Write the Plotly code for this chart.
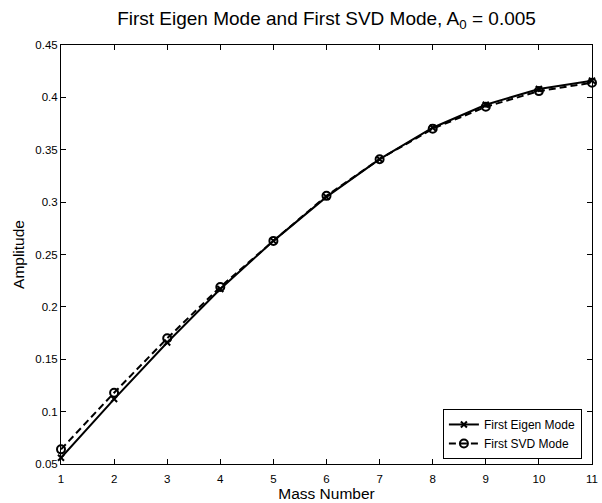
import plotly.graph_objects as go

mass_number = [1, 2, 3, 4, 5, 6, 7, 8, 9, 10, 11]
eigen_mode = [0.056, 0.112, 0.166, 0.217, 0.263, 0.305, 0.341, 0.371, 0.393, 0.408, 0.416]
svd_mode = [0.064, 0.118, 0.170, 0.219, 0.263, 0.306, 0.341, 0.370, 0.391, 0.406, 0.414]

x_ticks = list(range(1, 12))
y_ticks = [0.05, 0.1, 0.15, 0.2, 0.25, 0.3, 0.35, 0.4, 0.45]
y_ticktext = ["0.05", "0.1", "0.15", "0.2", "0.25", "0.3", "0.35", "0.4", "0.45"]

font = "Liberation Sans, Arial, Helvetica, sans-serif"

fig = go.Figure()
fig.add_trace(go.Scatter(
    x=mass_number, y=eigen_mode, mode="lines+markers", name="First Eigen Mode",
    cliponaxis=False,
    line=dict(color="black", width=2, dash="solid"),
    marker=dict(symbol="x-thin-open", size=6, color="black", line=dict(width=2, color="black")),
))
fig.add_trace(go.Scatter(
    x=mass_number, y=svd_mode, mode="lines+markers", name="First SVD Mode",
    cliponaxis=False,
    line=dict(color="black", width=2, dash="7px,4px"),
    marker=dict(symbol="circle-open", size=8, color="black", line=dict(width=2, color="black")),
))

axis_common = dict(
    showgrid=False, zeroline=False, showline=True, linecolor="black", linewidth=1,
    mirror="ticks", ticks="inside", ticklen=5, tickwidth=1, tickcolor="black",
    ticklabeloverflow="allow",
    tickfont=dict(family=font, size=11.5, color="black"),
)

fig.update_layout(
    width=602, height=503,
    margin=dict(l=61, r=4, t=45, b=37),
    paper_bgcolor="white", plot_bgcolor="white",
    title=dict(text="First Eigen Mode and First SVD Mode, A<sub>0</sub> = 0.005",
               x=0.5, xref="paper", xanchor="center", y=0.964, yanchor="middle",
               font=dict(family=font, size=19, color="black")),
    xaxis=dict(range=[1, 11], tickvals=x_ticks, ticklabelstandoff=4,
               title=dict(text="Mass Number", standoff=3, font=dict(family=font, size=15.5, color="black")),
               **axis_common),
    yaxis=dict(range=[0.05, 0.45], tickvals=y_ticks, ticktext=y_ticktext,
               title=dict(text="Amplitude", standoff=6, font=dict(family=font, size=15.5, color="black")),
               **axis_common),
    legend=dict(x=0.981, y=0.012, xanchor="right", yanchor="bottom",
                bgcolor="white", bordercolor="black", borderwidth=1,
                font=dict(family=font, size=12, color="black"),
                tracegroupgap=0, itemwidth=30),
    showlegend=True,
)

fig.write_html("out.html")
